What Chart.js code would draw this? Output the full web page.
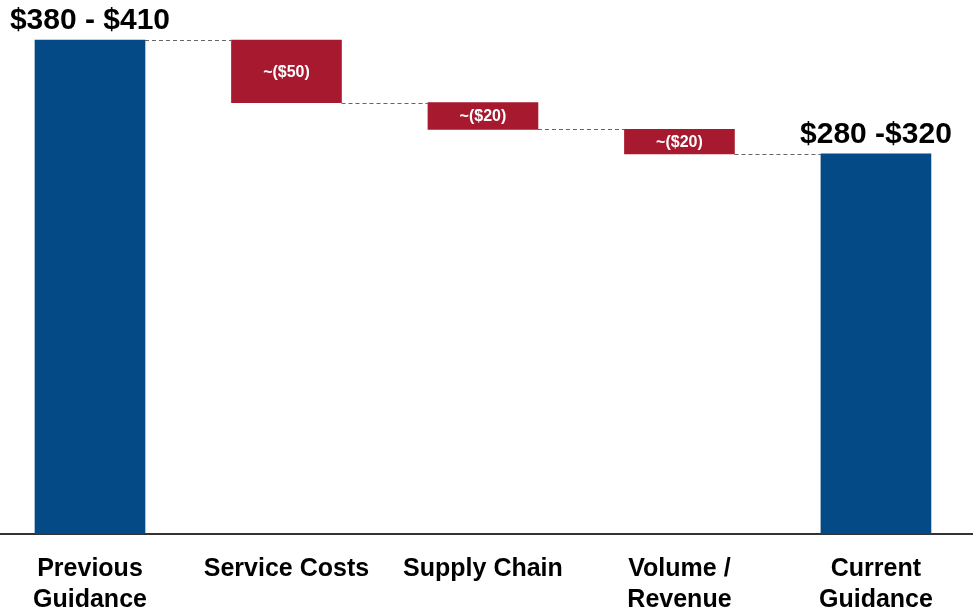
<!DOCTYPE html>
<html>
<head>
<meta charset="utf-8">
<script src="https://cdn.jsdelivr.net/npm/chart.js@4"></script>
<style>
  body { margin: 0; background: #fff; }
  #wrap { width: 973px; height: 616px; }
</style>
</head>
<body>
<div id="wrap"><canvas id="myChart"></canvas></div>
<script>
// categories (multi-line ones as arrays)
const categories = [['Previous', 'Guidance'], 'Service Costs', 'Supply Chain', ['Volume /', 'Revenue'], ['Current', 'Guidance']]
// first and last are totals, the rest are changes
const values = [395, -50, -21.5, -19.5, 304]
const isTotal = [true, false, false, false, true]
const barLabels = ['$380 - $410', '~($50)', '~($20)', '~($20)', '$280 -$320']

const BLUE = '#034a86'
const RED = '#a6192e'
const FONT = '"Liberation Sans", Arial, Helvetica, sans-serif'

// build floating ranges + running levels
let running = 0
const levels = []
const ranges = values.map((v, i) => {
    let r
    if (isTotal[i]) {
        r = [0, v]
        running = v
    } else {
        r = [running + v, running]
        running = running + v
    }
    levels.push(running)
    return { x: i, y: r }
})

const waterfallExtras = {
    id: 'waterfallExtras',
    afterDatasetsDraw(chart) {
        const ctx = chart.ctx
        const meta = chart.getDatasetMeta(0)
        const yScale = chart.scales.y
        ctx.save()

        // dashed connectors
        ctx.strokeStyle = '#666'
        ctx.lineWidth = 1
        ctx.setLineDash([4, 3])
        for (let i = 0; i < meta.data.length - 1; i++) {
            const a = meta.data[i]
            const b = meta.data[i + 1]
            const y = Math.round(yScale.getPixelForValue(levels[i])) + 0.5
            ctx.beginPath()
            ctx.moveTo(a.x + a.width / 2, y)
            ctx.lineTo(b.x - b.width / 2, y)
            ctx.stroke()
        }
        ctx.setLineDash([])

        // labels
        meta.data.forEach((el, i) => {
            const top = Math.min(el.y, el.base)
            const bottom = Math.max(el.y, el.base)
            ctx.textAlign = 'center'
            if (isTotal[i]) {
                ctx.fillStyle = '#000'
                ctx.font = 'bold 30px ' + FONT
                ctx.textBaseline = 'alphabetic'
                ctx.fillText(barLabels[i], el.x, top - 11)
            } else {
                ctx.fillStyle = '#fff'
                ctx.font = 'bold 16px ' + FONT
                ctx.textBaseline = 'middle'
                ctx.fillText(barLabels[i], el.x, (top + bottom) / 2 + 1)
            }
        })
        ctx.restore()
    }
}

const config = {
    type: 'bar',
    data: {
        datasets: [{
            data: ranges,
            backgroundColor: values.map((v, i) => isTotal[i] ? BLUE : RED),
            barThickness: 110,
            borderWidth: 0
        }]
    },
    options: {
        responsive: true,
        maintainAspectRatio: false,
        animation: false,
        layout: { padding: 0 },
        plugins: {
            legend: { display: false },
            tooltip: { enabled: false }
        },
        scales: {
            x: {
                type: 'linear',
                offset: false,
                min: -0.458,
                max: 4.494,
                grid: { display: false, drawTicks: false },
                border: { display: true, color: '#333', width: 2 },
                afterBuildTicks: (scale) => {
                    scale.ticks = categories.map((c, i) => ({ value: i }))
                },
                afterFit: (scale) => { scale.height = 82 },
                ticks: {
                    autoSkip: false,
                    maxRotation: 0,
                    padding: 19,
                    color: '#000',
                    font: { family: FONT, weight: 'bold', size: 25, lineHeight: 1.25 },
                    callback: (v) => categories[v]
                }
            },
            y: {
                display: false,
                min: 0,
                max: 427
            }
        }
    },
    plugins: [waterfallExtras]
}

const myChart = new Chart(document.getElementById('myChart'), config)
</script>
</body>
</html>
